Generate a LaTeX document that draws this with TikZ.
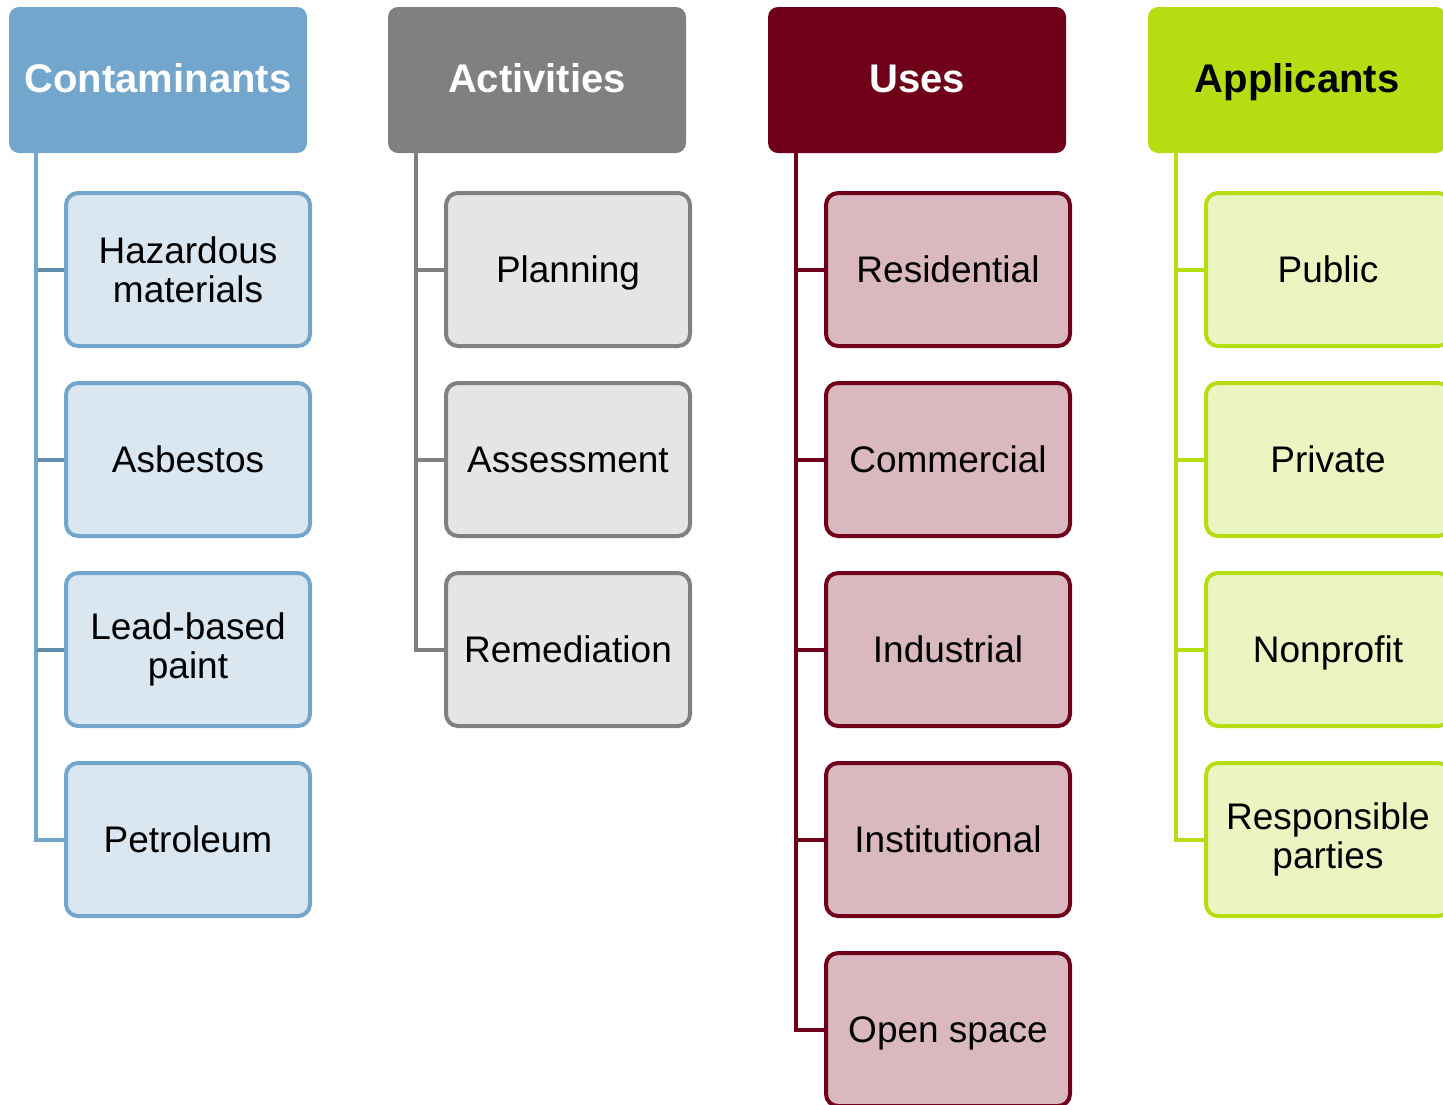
\documentclass[tikz,border=0pt]{standalone}
\usepackage{fontspec}
\setmainfont{Liberation Sans}
\definecolor{cblue}{HTML}{73A6CD}
\definecolor{cbluel}{HTML}{DAE6F0}
\definecolor{cblued}{HTML}{5F8BAD}
\definecolor{cgray}{HTML}{808080}
\definecolor{cgrayl}{HTML}{E5E5E5}
\definecolor{cred}{HTML}{700019}
\definecolor{credl}{HTML}{D9B9BF}
\definecolor{cgreen}{HTML}{B5DD12}
\definecolor{cgreenl}{HTML}{EAF5C2}
\tikzset{
  head/.style={fill=#1, rounded corners=10pt, minimum width=298pt, minimum height=146pt,
    inner sep=0pt, text height=30pt, text depth=4.4pt, font=\fontsize{40}{44}\selectfont\bfseries},
  item/.style n args={2}{draw=#1, fill=#2, line width=4pt, rounded corners=12pt,
    minimum width=244pt, minimum height=153pt, inner sep=0pt, align=center,
    font=\fontsize{37}{39}\selectfont},
  one/.style={text height=30pt, text depth=3.5pt},
  trunk/.style={draw=#1, line width=4pt}
}
\begin{document}
\begin{tikzpicture}[x=1pt,y=-1pt]
\clip (0,0) rectangle (1443,1104);
\useasboundingbox (0,0) rectangle (1443,1104);
% headers
\node[head=cblue, text=white] (h1) at (158,80) {Contaminants};
\node[head=cgray, text=white] (h2) at (537,80) {Activities};
\node[head=cred, text=white] (h3) at (917,80) {Uses};
\node[head=cgreen, text=black] (h4) at (1297,80) {Applicants};
% trunk start coordinates
\coordinate (t1) at (36,153);
\coordinate (t2) at (416,153);
\coordinate (t3) at (796,153);
\coordinate (t4) at (1176,153);
% column 1
\node[item={cblue}{cbluel}] (a1) at (188,269.5) {Hazardous\\materials};
\node[item={cblue}{cbluel}, one] (a2) at (188,459.5) {Asbestos};
\node[item={cblue}{cbluel}] (a3) at (188,649.5) {Lead-based\\paint};
\node[item={cblue}{cbluel}, one] (a4) at (188,839.5) {Petroleum};
% column 2
\node[item={cgray}{cgrayl}, one] (b1) at (568,269.5) {Planning};
\node[item={cgray}{cgrayl}, one] (b2) at (568,459.5) {Assessment};
\node[item={cgray}{cgrayl}, one] (b3) at (568,649.5) {Remediation};
% column 3
\node[item={cred}{credl}, one] (c1) at (948,269.5) {Residential};
\node[item={cred}{credl}, one] (c2) at (948,459.5) {Commercial};
\node[item={cred}{credl}, one] (c3) at (948,649.5) {Industrial};
\node[item={cred}{credl}, one] (c4) at (948,839.5) {Institutional};
\node[item={cred}{credl}, one] (c5) at (948,1029.5) {Open space};
% column 4
\node[item={cgreen}{cgreenl}, one] (d1) at (1328,269.5) {Public};
\node[item={cgreen}{cgreenl}, one] (d2) at (1328,459.5) {Private};
\node[item={cgreen}{cgreenl}, one] (d3) at (1328,649.5) {Nonprofit};
\node[item={cgreen}{cgreenl}] (d4) at (1328,839.5) {Responsible\\parties};
% connectors
\draw[trunk=cblue] (t1) |- (a4.west);
\foreach \n in {a1,a2,a3} \draw[trunk=cblued] (t1 |- \n.west) -- (\n.west);
\draw[trunk=cblue] (t1) -- (t1 |- a3.west);
\draw[trunk=cgray] (t2) |- (b3.west);
\foreach \n in {b1,b2} \draw[trunk=cgray] (t2 |- \n.west) -- (\n.west);
\draw[trunk=cred] (t3) |- (c5.west);
\foreach \n in {c1,c2,c3,c4} \draw[trunk=cred] (t3 |- \n.west) -- (\n.west);
\draw[trunk=cgreen] (t4) |- (d4.west);
\foreach \n in {d1,d2,d3} \draw[trunk=cgreen] (t4 |- \n.west) -- (\n.west);
\end{tikzpicture}
\end{document}
